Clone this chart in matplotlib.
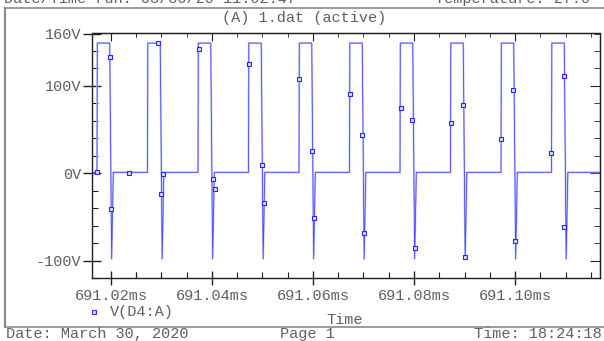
import matplotlib
matplotlib.use("Agg")
import matplotlib.pyplot as plt
from matplotlib.lines import Line2D

W, H = 604, 341

# Pulse rise times (ms) and the shape of one pulse (offset ms, volts)
rise_times = [691.01723, 691.02723, 691.03723, 691.04723, 691.05723,
              691.06723, 691.07723, 691.08723, 691.09723, 691.10723]
pulse_offsets = [0.0, 0.00006, 0.00252, 0.00290, 0.00323]
pulse_volts = [1, 149, 149, -98, 1]
base_volt = 1

# Marker points of V(D4:A)
marker_t = [691.01723, 691.01974, 691.02006, 691.02362, 691.02931, 691.02990,
            691.03036, 691.03743, 691.04014, 691.04053, 691.04733, 691.04990,
            691.05024, 691.05729, 691.05986, 691.06020, 691.06733, 691.06976,
            691.07016, 691.07733, 691.07966, 691.08014, 691.08727, 691.08964,
            691.09004, 691.09717, 691.09966, 691.10000, 691.10713, 691.10964,
            691.10976]
marker_v = [1.6, 133.4, -40.7, 0.6, 148.8, -23.5,
            -1.3, 142, -6.6, -18.5, 124.7, 9.7,
            -34.5, 107.9, 26, -51.7, 91.2, 43.8,
            -68.6, 74.3, 61, -85.8, 57.2, 77.9,
            -96.1, 39.6, 95.8, -78, 23.2, 111.5,
            -62]

x_ticks = [691.02, 691.04, 691.06, 691.08, 691.10]
x_labels = ['691.02ms', '691.04ms', '691.06ms', '691.08ms', '691.10ms']
y_ticks = [-100, 0, 100, 160]
y_labels = ['-100V', '0V', '100V', '160V']

xmin, xmax = 691.01624, 691.11683
ymin, ymax = -120, 160

# build the trace
t = [xmin]
v = [base_volt]
for r in rise_times:
    for o, pv in zip(pulse_offsets, pulse_volts):
        t.append(r + o)
        v.append(pv)
t.append(xmax)
v.append(base_volt)

mono = 'Liberation Mono'
txt_col = '#606060'
ax_col = '#202020'
fs = 11

fig = plt.figure(figsize=(W / 100, H / 100), dpi=100)
ax = fig.add_axes([92 / W, 1 - 278 / H, 508 / W, (278 - 33.5) / H])


def fp(x, y):
    return x / W, 1 - y / H


ax.plot(t, v, color='#c4c4ff', lw=1.4)
ax.plot(t, v, color='#4a4aff', lw=0.6)
ax.plot(marker_t, marker_v, ls='none', marker='s', ms=3.0,
        mec='#2525ff', mfc='#dcdcff', mew=0.8)

ax.set_xlim(xmin, xmax)
ax.set_ylim(ymin, ymax)

ax.set_xticks(x_ticks)
ax.set_xticklabels(x_labels, fontfamily=mono, fontsize=fs, color=txt_col)
ax.set_xticks([x + d for x in [691.015] + x_ticks for d in (0.0, 0.005, 0.01, 0.015)
               if xmin < x + d < xmax and round((x + d - 691.0) / 0.02, 6) % 1 != 0],
              minor=True)
ax.set_yticks(y_ticks)
ax.set_yticklabels(y_labels, fontfamily=mono, fontsize=fs, color=txt_col)
ax.set_yticks(range(-120, 161, 20), minor=True)

ax.tick_params(axis='x', which='major', direction='inout', length=10, width=1,
               color=ax_col, pad=3)
ax.tick_params(axis='x', which='minor', direction='in', length=4, width=0.8,
               color=ax_col)
ax.tick_params(axis='y', which='major', direction='inout', length=13, width=1,
               color=ax_col, pad=1)
ax.tick_params(axis='y', which='minor', direction='in', length=4, width=0.8,
               color=ax_col)
for s in ax.spines.values():
    s.set_color(ax_col)
    s.set_linewidth(1)

top = ax.secondary_xaxis('top')
top.set_xticks(x_ticks)
top.set_xticks(ax.get_xticks(minor=True), minor=True)
top.tick_params(which='major', direction='in', length=6, color=ax_col, labeltop=False)
top.tick_params(which='minor', direction='in', length=3, color=ax_col)
right = ax.secondary_yaxis('right')
right.set_yticks([-100, 0, 100])
right.set_yticks(range(-120, 161, 20), minor=True)
right.tick_params(which='major', direction='in', length=7, color=ax_col, labelright=False)
right.tick_params(which='minor', direction='in', length=4, color=ax_col)

# page frame
frame_col = '#8a8a8a'
fig.add_artist(Line2D([5 / W, 5 / W], [1 - 8 / H, 1 - 327 / H], color=frame_col, lw=1.6))
fig.add_artist(Line2D([5 / W, 1.0], [1 - 8 / H, 1 - 8 / H], color=frame_col, lw=1.2))
fig.add_artist(Line2D([5 / W, 1.0], [1 - 327 / H, 1 - 327 / H], color=frame_col, lw=1.2))

# texts
fig.text(*fp(4, 3), 'Date/Time run: 03/30/20 11:02:47', fontfamily=mono, fontsize=fs,
         color=txt_col, va='baseline')
fig.text(*fp(435, 3), 'Temperature: 27.0', fontfamily=mono, fontsize=fs,
         color=txt_col, va='baseline')
fig.text(*fp(304, 18), '(A) 1.dat (active)', fontfamily=mono, fontsize=fs,
         color=txt_col, ha='center', va='center')
fig.add_artist(Line2D([94 / W], [1 - 312 / H], ls='none', marker='s', ms=2.4,
                      mec='#3030ff', mfc='#dcdcff', mew=0.8))
fig.text(*fp(110, 312), 'V(D4:A)', fontfamily=mono, fontsize=fs,
         color=txt_col, va='center')
fig.text(*fp(345, 320), 'Time', fontfamily=mono, fontsize=fs,
         color=txt_col, ha='center', va='center')
fig.text(*fp(6, 334), 'Date: March 30, 2020', fontfamily=mono, fontsize=fs,
         color=txt_col, va='center')
fig.text(*fp(280, 334), 'Page 1', fontfamily=mono, fontsize=fs,
         color=txt_col, va='center')
fig.text(*fp(474, 334), 'Time: 18:24:18', fontfamily=mono, fontsize=fs,
         color=txt_col, va='center')

fig.savefig('out.png', dpi=100)
